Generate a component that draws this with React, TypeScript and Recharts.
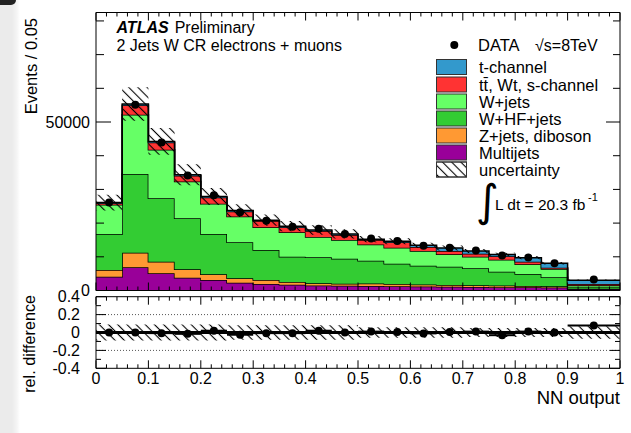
import React from 'react';
import { Area, ComposedChart, ErrorBar, ReferenceLine, Scatter, XAxis, YAxis } from 'recharts';

const FONT = '"Liberation Sans", Arial, Helvetica, sans-serif';

// NN output bin edges; the last bin (0.9 - 1.0) is twice as wide
const binEdges = [0, 0.05, 0.1, 0.15, 0.2, 0.25, 0.3, 0.35, 0.4, 0.45, 0.5, 0.55, 0.6, 0.65, 0.7, 0.75, 0.8, 0.85, 0.9, 1.0];

// predicted events per bin, stacked bottom to top
const multijets = [4100, 6900, 5110, 3810, 3120, 2320, 1950, 1700, 1500, 1400, 1300, 1250, 1200, 1100, 1050, 1000, 950, 900, 450];
const zjetsDiboson = [1990, 4340, 3450, 2490, 1690, 1300, 1170, 800, 650, 600, 750, 650, 600, 550, 500, 450, 400, 350, 100];
const wHfJets = [10710, 23310, 18850, 15160, 11990, 10710, 8920, 7550, 7750, 7400, 6770, 6030, 5540, 5430, 5050, 4150, 3550, 2670, 550];
const wJets = [8620, 17630, 14360, 10890, 8910, 7610, 6750, 7250, 6000, 5600, 4850, 4730, 4350, 3680, 3400, 3500, 2890, 2470, 450];
const ttbarWtS = [480, 2820, 2130, 1700, 1890, 1510, 1810, 1500, 1750, 1500, 1280, 1640, 1210, 980, 900, 1050, 770, 390, 350];
const tChannel = [200, 360, 340, 290, 290, 270, 270, 290, 300, 300, 290, 340, 500, 890, 850, 550, 1190, 1310, 1130];

const dataCounts = [26100, 55150, 43940, 34100, 28300, 23200, 20700, 18950, 18300, 16800, 15400, 14700, 13250, 12700, 11900, 10350, 9800, 8090, 3270];

// lower panel: (data - MC) / MC and the relative MC uncertainty
const relDiff = [0, 0, -0.007, -0.015, 0.02, -0.025, -0.007, -0.007, 0.02, 0, 0.01, 0.005, -0.01, 0.005, 0.01, -0.03, 0.01, 0, 0.078];
const relUnc = [0.09, 0.09, 0.09, 0.09, 0.09, 0.08, 0.08, 0.08, 0.08, 0.08, 0.06, 0.06, 0.06, 0.06, 0.05, 0.05, 0.05, 0.05, 0.07];

const xMajorLabels = ['0', '0.1', '0.2', '0.3', '0.4', '0.5', '0.6', '0.7', '0.8', '0.9', '1'];
const yTicksMain = [0, 10000, 20000, 30000, 40000, 50000, 60000, 70000, 80000];
const yLabelsMain: Record<number, string> = { 0: '0', 50000: '50000' };
const yTicksRatio = [-0.4, -0.3, -0.2, -0.1, 0, 0.1, 0.2, 0.3, 0.4];
const yLabelsRatio: Record<string, string> = { '-0.4': '-0.4', '-0.2': '-0.2', '0': '0', '0.2': '0.2', '0.4': '0.4' };

const series = [
  { key: 'multijets', label: 'Multijets', color: '#990099', values: multijets },
  { key: 'zjets', label: 'Z+jets, diboson', color: '#ff9933', values: zjetsDiboson },
  { key: 'whf', label: 'W+HF+jets', color: '#33cc33', values: wHfJets },
  { key: 'wjets', label: 'W+jets', color: '#66ff66', values: wJets },
  { key: 'ttbar', label: 'tt\u0304, Wt, s-channel', color: '#ff3333', values: ttbarWtS },
  { key: 'tchan', label: 't-channel', color: '#3399cc', values: tChannel },
];

const nBins = dataCounts.length;
const totalAt = (i: number) => series.reduce((s, c) => s + c.values[i], 0);

// one row per bin edge; the final edge repeats the last bin so the step closes at x = 1
const mainRows = binEdges.map((x, k) => {
  const i = Math.min(k, nBins - 1);
  const row: Record<string, any> = { x };
  series.forEach((s) => (row[s.key] = s.values[i]));
  const tot = totalAt(i);
  row.band = [tot * (1 - relUnc[i]), tot * (1 + relUnc[i])];
  return row;
});

const ratioRows = binEdges.map((x, k) => {
  const i = Math.min(k, nBins - 1);
  return { x, band: [-relUnc[i], relUnc[i]] };
});

const dataPoints = dataCounts.map((y, i) => ({ x: (binEdges[i] + binEdges[i + 1]) / 2, y }));
const ratioPoints = relDiff.map((y, i) => ({
  x: (binEdges[i] + binEdges[i + 1]) / 2,
  y,
  ex: (binEdges[i + 1] - binEdges[i]) / 2,
}));

const xTicks = Array.from({ length: 51 }, (_, i) => i / 50);
const isTenth = (v: number) => Math.abs(v * 10 - Math.round(v * 10)) < 1e-6;

function xTick(dir: number, major: number, minor: number, labels: boolean) {
  return (p: any) => {
    const v = p.payload.value;
    const big = isTenth(v);
    return (
      <g>
        <line x1={p.x} x2={p.x} y1={p.y} y2={p.y + dir * (big ? major : minor)} stroke="#000" />
        {labels && big && (
          <text x={p.x} y={p.y + 15.5} textAnchor="middle" fontSize={16} fontFamily={FONT} fill="#000">
            {xMajorLabels[Math.round(v * 10)]}
          </text>
        )}
      </g>
    );
  };
}

function yTick(dir: number, major: number, minor: number, labelOf: (v: number) => string | undefined, isMajor: (v: number) => boolean, gap: number) {
  return (p: any) => {
    const v = p.payload.value;
    const big = isMajor(v);
    const label = labelOf(v);
    return (
      <g>
        <line x1={p.x} x2={p.x + dir * (big ? major : minor)} y1={p.y} y2={p.y} stroke="#000" />
        {label !== undefined && (
          <text x={p.x - gap} y={p.y + 5.5} textAnchor="end" fontSize={16} fontFamily={FONT} fill="#000">
            {label}
          </text>
        )}
      </g>
    );
  };
}

const frame = { stroke: '#000', strokeWidth: 1 };
const dot = (r: number) => (p: any) => <circle cx={p.cx} cy={p.cy} r={r} fill="#000" />;

function MainPanel() {
  return (
    <ComposedChart width={631} height={300} data={mainRows} margin={{ top: 11.5, right: 10, bottom: 8.5, left: 0 }}>
      <XAxis dataKey="x" type="number" domain={[0, 1]} ticks={xTicks} interval={0} height={1} tickSize={0} tickMargin={0}
        axisLine={frame} tick={xTick(-1, 8, 4, false)} allowDataOverflow />
      <XAxis xAxisId="top" orientation="top" dataKey="x" type="number" domain={[0, 1]} ticks={xTicks} interval={0} height={1}
        tickSize={0} tickMargin={0} axisLine={frame} tick={xTick(1, 8, 4, false)} allowDataOverflow />
      <YAxis type="number" domain={[0, 82500]} ticks={yTicksMain} interval={0} width={96} tickSize={0} tickMargin={0}
        axisLine={frame} allowDataOverflow
        tick={yTick(1, 15, 8, (v) => yLabelsMain[v], (v) => v % 50000 === 0, 6)} />
      <YAxis yAxisId="right" orientation="right" type="number" domain={[0, 82500]} ticks={yTicksMain} interval={0} width={1}
        tickSize={0} tickMargin={0} axisLine={frame} allowDataOverflow
        tick={yTick(-1, 14, 7, () => undefined, (v) => v % 50000 === 0, 0)} />
      {series.map((s) => (
        <Area key={s.key} dataKey={s.key} stackId="mc" type="stepAfter" fill={s.color} fillOpacity={1}
          stroke="#000" strokeWidth={1.5} dot={false} activeDot={false} isAnimationActive={false} />
      ))}
      <Area dataKey="band" type="stepAfter" fill="url(#atlasHatch)" fillOpacity={1} stroke="none"
        dot={false} activeDot={false} isAnimationActive={false} />
      <Scatter data={dataPoints} dataKey="y" shape={dot(4)} isAnimationActive={false} />
    </ComposedChart>
  );
}

function RatioPanel() {
  return (
    <ComposedChart width={631} height={148} data={ratioRows} margin={{ top: 10.7, right: 10, bottom: 63.7, left: 0 }}>
      <XAxis dataKey="x" type="number" domain={[0, 1]} ticks={xTicks} interval={0} height={1} tickSize={0} tickMargin={0}
        axisLine={frame} tick={xTick(-1, 8, 4, true)} allowDataOverflow />
      <XAxis xAxisId="top" orientation="top" dataKey="x" type="number" domain={[0, 1]} ticks={xTicks} interval={0} height={1}
        tickSize={0} tickMargin={0} axisLine={frame} tick={xTick(1, 8, 4, false)} allowDataOverflow />
      <YAxis type="number" domain={[-0.4, 0.4]} ticks={yTicksRatio} interval={0} width={96} tickSize={0} tickMargin={0}
        axisLine={frame} allowDataOverflow
        tick={yTick(1, 10, 5, (v) => yLabelsRatio[String(Math.round(v * 10) / 10)], (v) => Math.round(v * 10) % 2 === 0, 16)} />
      <YAxis yAxisId="right" orientation="right" type="number" domain={[-0.4, 0.4]} ticks={yTicksRatio} interval={0} width={1}
        tickSize={0} tickMargin={0} axisLine={frame} allowDataOverflow
        tick={yTick(-1, 10, 5, () => undefined, (v) => Math.round(v * 10) % 2 === 0, 0)} />
      <ReferenceLine y={0.2} stroke="#555" strokeDasharray="1 2" />
      <ReferenceLine y={-0.2} stroke="#555" strokeDasharray="1 2" />
      <Area dataKey="band" type="stepAfter" fill="url(#atlasHatch)" fillOpacity={1} stroke="none"
        dot={false} activeDot={false} isAnimationActive={false} />
      <ReferenceLine y={0} stroke="#000" strokeWidth={3} />
      <Scatter data={ratioPoints} dataKey="y" shape={dot(4)} isAnimationActive={false}>
        <ErrorBar dataKey="ex" direction="x" width={0} stroke="#000" strokeWidth={2} />
      </Scatter>
    </ComposedChart>
  );
}

const legendRows = [
  { label: 't-channel', color: '#3399cc', y: 67 },
  { label: 'tt\u0304, Wt, s-channel', color: '#ff3333', y: 84.5 },
  { label: 'W+jets', color: '#66ff66', y: 101.5 },
  { label: 'W+HF+jets', color: '#33cc33', y: 118.5 },
  { label: 'Z+jets, diboson', color: '#ff9933', y: 135.5 },
  { label: 'Multijets', color: '#990099', y: 152.5 },
  { label: 'uncertainty', color: 'url(#atlasHatch)', y: 169.5 },
];

function Overlay() {
  const t = { fontFamily: FONT, fill: '#000' };
  return (
    <svg width={631} height={433} style={{ position: 'absolute', left: 0, top: 0, pointerEvents: 'none' }}>
      <text x={116.5} y={32.7} fontSize={16} {...t}>
        <tspan fontWeight="bold" fontStyle="italic">ATLAS</tspan>
        <tspan dx={6}>Preliminary</tspan>
      </text>
      <text x={116.5} y={50.7} fontSize={16} {...t}>2 Jets W CR electrons + muons</text>

      <circle cx={454.3} cy={45} r={4} fill="#000" />
      <text x={478} y={51} fontSize={16.5} {...t}>DATA</text>
      <text x={535} y={51} fontSize={16} {...t}>{'\u221As=8TeV'}</text>
      {legendRows.map((r) => (
        <g key={r.label}>
          <rect x={436.5} y={r.y - 7.5} width={30} height={15} fill={r.color === 'url(#atlasHatch)' ? '#fff' : r.color}
            stroke="#333" strokeWidth={1} />
          {r.color === 'url(#atlasHatch)' && <rect x={436.5} y={r.y - 7.5} width={30} height={15} fill={r.color} stroke="#333" />}
          <text x={479} y={r.y + 6} fontSize={16.5} {...t}>{r.label}</text>
        </g>
      ))}
      <text x={476} y={216} fontSize={44} fontFamily='"DejaVu Sans", sans-serif' fill="#000">{'\u222B'}</text>
      <text x={495} y={210} fontSize={15.5} {...t}>L dt = 20.3 fb</text>
      <text x={588} y={201} fontSize={11} {...t}>-1</text>

      <text transform="translate(36.5,18) rotate(-90)" textAnchor="end" fontSize={16.5} {...t}>Events / 0.05</text>
      <text transform="translate(35,295) rotate(-90)" textAnchor="end" fontSize={16.2} {...t}>rel. difference</text>
      <text x={620} y={404} textAnchor="end" fontSize={18.5} {...t}>NN output</text>
    </svg>
  );
}

export default function App() {
  return (
    <div style={{ position: 'absolute', left: 0, top: 0, width: 631, height: 433, background: '#fff', overflow: 'hidden' }}>
      <div style={{ position: 'absolute', left: 0, top: 0, width: 20, height: 433,
        background: 'linear-gradient(to right, #ebebeb 0px, #ebebeb 12px, #f5f5f5 17px, #fff 20px)' }} />
      <div style={{ position: 'absolute', left: 0, top: 0, width: 16, height: 5, background: '#222', borderBottomRightRadius: 14 }} />
      <svg width={0} height={0} style={{ position: 'absolute' }}>
        <defs>
          <pattern id="atlasHatch" width={6.5} height={6.5} patternUnits="userSpaceOnUse" patternTransform="rotate(-45)">
            <line x1={3.25} y1={0} x2={3.25} y2={6.5} stroke="#000" strokeWidth={1.1} />
          </pattern>
        </defs>
      </svg>
      <div style={{ position: 'absolute', left: 0, top: 0 }}>
        <MainPanel />
      </div>
      <div style={{ position: 'absolute', left: 0, top: 285 }}>
        <RatioPanel />
      </div>
      <Overlay />
    </div>
  );
}
